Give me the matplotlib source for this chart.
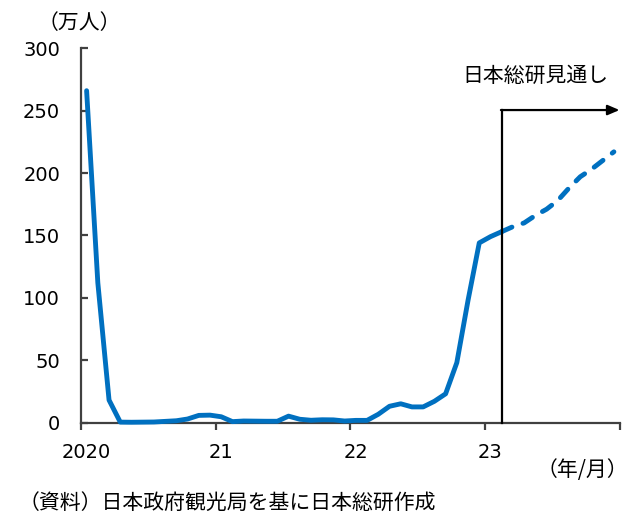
import matplotlib
matplotlib.use("Agg")
import matplotlib.pyplot as plt
import numpy as np

# Monthly visitor arrivals (10k persons), Jan 2020 - Feb 2023 (actual)
actual = [
    266, 112, 18, 0.3, 0.2, 0.3, 0.4, 0.9, 1.4, 2.8, 5.7, 5.9,      # 2020
    4.6, 0.7, 1.2, 1.1, 1.0, 1.0, 5.1, 2.6, 1.8, 2.2, 2.1, 1.2,      # 2021
    1.7, 1.7, 6.6, 13, 15, 12.5, 12.5, 17, 23, 48, 98, 144,          # 2022
    149, 153,                                                        # 2023
]
# Outlook, Feb 2023 - Dec 2023
outlook = [153, 157, 160, 166, 171, 178, 188, 197, 203, 210, 217]

year_labels = ["2020", "21", "22", "23"]
y_ticks = [0, 50, 100, 150, 200, 250, 300]

BLUE = "#0070C0"
AXIS = "#404040"
JP = ["Noto Sans CJK JP", "DejaVu Sans"]

fig = plt.figure(figsize=(6.29, 5.15), dpi=100)
ax = fig.add_axes([81 / 629, 1 - 422.5 / 515, (619.5 - 81) / 629, (422.5 - 48.3) / 515])

x_act = np.arange(len(actual)) + 0.5
x_out = np.arange(len(actual) - 1, len(actual) - 1 + len(outlook)) + 0.5

ax.plot(x_act, actual, color=BLUE, lw=3.5, solid_capstyle="round",
        solid_joinstyle="round", clip_on=False, zorder=3)
ax.plot(x_out, outlook, color=BLUE, lw=3.5, linestyle=(0, (2.3, 2.4)),
        dash_capstyle="round", dash_joinstyle="round", clip_on=False, zorder=3)

ax.set_xlim(0, 48)
ax.set_ylim(0, 300)

for s in ["top", "right"]:
    ax.spines[s].set_visible(False)
for s in ["left", "bottom"]:
    ax.spines[s].set_color(AXIS)
    ax.spines[s].set_linewidth(1.6)

ax.set_yticks(y_ticks)
ax.set_yticklabels([str(v) for v in y_ticks])
ax.tick_params(axis="y", direction="in", length=5, width=1.6, color=AXIS,
               pad=15, labelsize=14)

ax.set_xticks([0, 12, 24, 36, 48])
ax.set_xticklabels([])
ax.set_xticks([0.5, 12.5, 24.5, 36.5], minor=True)
ax.set_xticklabels(year_labels, minor=True)
ax.tick_params(axis="x", which="major", direction="out", length=5, width=1.6,
               color=AXIS)
ax.tick_params(axis="x", which="minor", length=0, pad=15, labelsize=14)

# Outlook marker: vertical line with arrow to the right
ax.plot([37.5, 37.5], [0, 250.5], color="black", lw=1.6, clip_on=False, zorder=4)
ax.annotate("", xy=(48, 250.5), xytext=(37.5 - 0.07, 250.5),
            arrowprops=dict(arrowstyle="-|>,head_length=0.7,head_width=0.3",
                            color="black", lw=1.6, shrinkA=0, shrinkB=0),
            annotation_clip=False, zorder=4)
ax.text(47.0, 277.8, "日本総研見通し", ha="right", va="center",
        fontsize=15, family=JP)

fig.text(38 / 629, 1 - 23 / 515, "（万人）", ha="left", va="center",
         fontsize=15, family=JP)
fig.text(628 / 629, 1 - 470 / 515, "（年/月）", ha="right", va="center",
         fontsize=15, family=JP)
fig.text(19 / 629, 1 - 503 / 515, "（資料）日本政府観光局を基に日本総研作成",
         ha="left", va="center", fontsize=15, family=JP)

fig.savefig("out.png", dpi=100)
